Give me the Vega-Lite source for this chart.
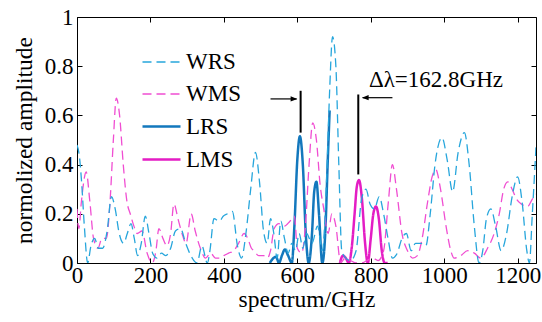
{
  "$schema": "https://vega.github.io/schema/vega-lite/v6.json",
  "width": 459,
  "height": 246,
  "autosize": {"type": "none"},
  "padding": {"left": 77, "top": 17, "right": 6, "bottom": 59},
  "config": {
    "view": {"stroke": "black", "strokeWidth": 1},
    "font": "Liberation Serif"
  },
  "datasets": {
    "curves": [
      {"s":"LRS","f":525,"a":0.0},{"s":"LRS","f":535,"a":0.02},{"s":"LRS","f":542,"a":0.025},{"s":"LRS","f":550,"a":0.0},{"s":"LRS","f":558,"a":0.03},{"s":"LRS","f":566,"a":0.055},{"s":"LRS","f":575,"a":0.03},{"s":"LRS","f":585,"a":0.0},{"s":"LRS","f":592,"a":0.15},{"s":"LRS","f":600,"a":0.42},{"s":"LRS","f":607,"a":0.515},{"s":"LRS","f":615,"a":0.4},{"s":"LRS","f":623,"a":0.12},{"s":"LRS","f":631,"a":0.0},{"s":"LRS","f":640,"a":0.12},{"s":"LRS","f":646,"a":0.29},{"s":"LRS","f":652,"a":0.33},{"s":"LRS","f":659,"a":0.2},{"s":"LRS","f":668,"a":0.0},{"s":"LRS","f":676,"a":0.12},{"s":"LRS","f":683,"a":0.42},{"s":"LRS","f":688,"a":0.62},
      {"s":"LMS","f":716,"a":0.0},{"s":"LMS","f":724,"a":0.03},{"s":"LMS","f":732,"a":0.02},{"s":"LMS","f":740,"a":0.0},{"s":"LMS","f":748,"a":0.06},{"s":"LMS","f":756,"a":0.2},{"s":"LMS","f":762,"a":0.31},{"s":"LMS","f":768,"a":0.337},{"s":"LMS","f":776,"a":0.26},{"s":"LMS","f":784,"a":0.09},{"s":"LMS","f":792,"a":0.0},{"s":"LMS","f":800,"a":0.1},{"s":"LMS","f":807,"a":0.2},{"s":"LMS","f":814,"a":0.23},{"s":"LMS","f":822,"a":0.18},{"s":"LMS","f":830,"a":0.05},{"s":"LMS","f":838,"a":0.0},{"s":"LMS","f":846,"a":0.0},
      {"s":"WMS","f":0,"a":0.22},{"s":"WMS","f":5,"a":0.14},{"s":"WMS","f":12,"a":0.25},{"s":"WMS","f":25,"a":0.37},{"s":"WMS","f":35,"a":0.25},{"s":"WMS","f":45,"a":0.1},{"s":"WMS","f":57,"a":0.06},{"s":"WMS","f":68,"a":0.1},{"s":"WMS","f":80,"a":0.1},{"s":"WMS","f":90,"a":0.25},{"s":"WMS","f":99,"a":0.5},{"s":"WMS","f":107,"a":0.67},{"s":"WMS","f":116,"a":0.6},{"s":"WMS","f":126,"a":0.4},{"s":"WMS","f":136,"a":0.25},{"s":"WMS","f":145,"a":0.2},{"s":"WMS","f":155,"a":0.15},{"s":"WMS","f":164,"a":0.12},{"s":"WMS","f":177,"a":0.13},{"s":"WMS","f":191,"a":0.04},{"s":"WMS","f":205,"a":0.0},{"s":"WMS","f":215,"a":0.05},{"s":"WMS","f":223,"a":0.14},{"s":"WMS","f":234,"a":0.1},{"s":"WMS","f":245,"a":0.07},{"s":"WMS","f":255,"a":0.12},{"s":"WMS","f":264,"a":0.24},{"s":"WMS","f":275,"a":0.18},{"s":"WMS","f":286,"a":0.12},{"s":"WMS","f":297,"a":0.08},{"s":"WMS","f":311,"a":0.2},{"s":"WMS","f":322,"a":0.13},{"s":"WMS","f":336,"a":0.06},{"s":"WMS","f":350,"a":0.02},{"s":"WMS","f":364,"a":0.04},{"s":"WMS","f":377,"a":0.02},{"s":"WMS","f":390,"a":0.02},{"s":"WMS","f":400,"a":0.03},{"s":"WMS","f":413,"a":0.04},{"s":"WMS","f":427,"a":0.05},{"s":"WMS","f":440,"a":0.08},{"s":"WMS","f":455,"a":0.12},{"s":"WMS","f":465,"a":0.1},{"s":"WMS","f":475,"a":0.06},{"s":"WMS","f":482,"a":0.05},{"s":"WMS","f":495,"a":0.03},{"s":"WMS","f":508,"a":0.03},{"s":"WMS","f":518,"a":0.02},{"s":"WMS","f":527,"a":0.05},{"s":"WMS","f":537,"a":0.14},{"s":"WMS","f":550,"a":0.16},{"s":"WMS","f":565,"a":0.15},{"s":"WMS","f":580,"a":0.17},{"s":"WMS","f":592,"a":0.19},{"s":"WMS","f":600,"a":0.06},{"s":"WMS","f":612,"a":0.04},{"s":"WMS","f":622,"a":0.15},{"s":"WMS","f":632,"a":0.4},{"s":"WMS","f":642,"a":0.57},{"s":"WMS","f":652,"a":0.5},{"s":"WMS","f":662,"a":0.32},{"s":"WMS","f":672,"a":0.22},{"s":"WMS","f":684,"a":0.12},{"s":"WMS","f":694,"a":0.2},{"s":"WMS","f":705,"a":0.15},{"s":"WMS","f":718,"a":0.0},{"s":"WMS","f":730,"a":0.02},{"s":"WMS","f":745,"a":0.01},{"s":"WMS","f":760,"a":0.0},{"s":"WMS","f":775,"a":0.0},{"s":"WMS","f":790,"a":0.01},{"s":"WMS","f":805,"a":0.02},{"s":"WMS","f":820,"a":0.01},{"s":"WMS","f":835,"a":0.05},{"s":"WMS","f":848,"a":0.25},{"s":"WMS","f":859,"a":0.4},{"s":"WMS","f":870,"a":0.3},{"s":"WMS","f":885,"a":0.12},{"s":"WMS","f":900,"a":0.05},{"s":"WMS","f":914,"a":0.02},{"s":"WMS","f":927,"a":0.03},{"s":"WMS","f":940,"a":0.1},{"s":"WMS","f":955,"a":0.25},{"s":"WMS","f":967,"a":0.35},{"s":"WMS","f":977,"a":0.38},{"s":"WMS","f":990,"a":0.3},{"s":"WMS","f":1005,"a":0.15},{"s":"WMS","f":1018,"a":0.05},{"s":"WMS","f":1027,"a":0.02},{"s":"WMS","f":1045,"a":0.03},{"s":"WMS","f":1064,"a":0.05},{"s":"WMS","f":1082,"a":0.04},{"s":"WMS","f":1100,"a":0.02},{"s":"WMS","f":1118,"a":0.06},{"s":"WMS","f":1136,"a":0.12},{"s":"WMS","f":1150,"a":0.2},{"s":"WMS","f":1162,"a":0.3},{"s":"WMS","f":1173,"a":0.33},{"s":"WMS","f":1185,"a":0.3},{"s":"WMS","f":1197,"a":0.26},{"s":"WMS","f":1210,"a":0.24},{"s":"WMS","f":1227,"a":0.23},{"s":"WMS","f":1240,"a":0.26},{"s":"WMS","f":1250,"a":0.28},
      {"s":"WRS","f":0,"a":0.48},{"s":"WRS","f":6,"a":0.44},{"s":"WRS","f":12,"a":0.34},{"s":"WRS","f":20,"a":0.15},{"s":"WRS","f":29,"a":0.0},{"s":"WRS","f":38,"a":0.07},{"s":"WRS","f":48,"a":0.1},{"s":"WRS","f":58,"a":0.06},{"s":"WRS","f":70,"a":0.06},{"s":"WRS","f":82,"a":0.13},{"s":"WRS","f":94,"a":0.27},{"s":"WRS","f":104,"a":0.22},{"s":"WRS","f":115,"a":0.12},{"s":"WRS","f":127,"a":0.08},{"s":"WRS","f":137,"a":0.12},{"s":"WRS","f":147,"a":0.16},{"s":"WRS","f":156,"a":0.1},{"s":"WRS","f":165,"a":0.03},{"s":"WRS","f":175,"a":0.08},{"s":"WRS","f":186,"a":0.19},{"s":"WRS","f":196,"a":0.12},{"s":"WRS","f":206,"a":0.04},{"s":"WRS","f":218,"a":0.02},{"s":"WRS","f":230,"a":0.04},{"s":"WRS","f":242,"a":0.03},{"s":"WRS","f":255,"a":0.06},{"s":"WRS","f":268,"a":0.13},{"s":"WRS","f":282,"a":0.14},{"s":"WRS","f":296,"a":0.08},{"s":"WRS","f":310,"a":0.03},{"s":"WRS","f":327,"a":0.0},{"s":"WRS","f":340,"a":0.07},{"s":"WRS","f":355,"a":0.0},{"s":"WRS","f":362,"a":0.05},{"s":"WRS","f":373,"a":0.18},{"s":"WRS","f":388,"a":0.17},{"s":"WRS","f":398,"a":0.19},{"s":"WRS","f":410,"a":0.2},{"s":"WRS","f":423,"a":0.21},{"s":"WRS","f":437,"a":0.07},{"s":"WRS","f":448,"a":0.02},{"s":"WRS","f":460,"a":0.12},{"s":"WRS","f":473,"a":0.3},{"s":"WRS","f":486,"a":0.45},{"s":"WRS","f":497,"a":0.33},{"s":"WRS","f":508,"a":0.13},{"s":"WRS","f":518,"a":0.08},{"s":"WRS","f":527,"a":0.18},{"s":"WRS","f":536,"a":0.12},{"s":"WRS","f":545,"a":0.02},{"s":"WRS","f":555,"a":0.17},{"s":"WRS","f":565,"a":0.1},{"s":"WRS","f":575,"a":0.04},{"s":"WRS","f":585,"a":0.08},{"s":"WRS","f":595,"a":0.05},{"s":"WRS","f":605,"a":0.12},{"s":"WRS","f":615,"a":0.06},{"s":"WRS","f":625,"a":0.12},{"s":"WRS","f":640,"a":0.08},{"s":"WRS","f":655,"a":0.15},{"s":"WRS","f":668,"a":0.05},{"s":"WRS","f":680,"a":0.35},{"s":"WRS","f":688,"a":0.7},{"s":"WRS","f":696,"a":0.92},{"s":"WRS","f":705,"a":0.8},{"s":"WRS","f":713,"a":0.4},{"s":"WRS","f":721,"a":0.05},{"s":"WRS","f":732,"a":0.02},{"s":"WRS","f":745,"a":0.01},{"s":"WRS","f":760,"a":0.05},{"s":"WRS","f":775,"a":0.26},{"s":"WRS","f":787,"a":0.3},{"s":"WRS","f":798,"a":0.24},{"s":"WRS","f":810,"a":0.22},{"s":"WRS","f":823,"a":0.27},{"s":"WRS","f":835,"a":0.2},{"s":"WRS","f":847,"a":0.1},{"s":"WRS","f":859,"a":0.02},{"s":"WRS","f":872,"a":0.04},{"s":"WRS","f":885,"a":0.1},{"s":"WRS","f":897,"a":0.12},{"s":"WRS","f":910,"a":0.05},{"s":"WRS","f":922,"a":0.08},{"s":"WRS","f":936,"a":0.08},{"s":"WRS","f":950,"a":0.07},{"s":"WRS","f":962,"a":0.2},{"s":"WRS","f":975,"a":0.4},{"s":"WRS","f":994,"a":0.51},{"s":"WRS","f":1008,"a":0.42},{"s":"WRS","f":1023,"a":0.29},{"s":"WRS","f":1038,"a":0.45},{"s":"WRS","f":1055,"a":0.53},{"s":"WRS","f":1068,"a":0.4},{"s":"WRS","f":1082,"a":0.15},{"s":"WRS","f":1095,"a":0.0},{"s":"WRS","f":1105,"a":0.05},{"s":"WRS","f":1115,"a":0.18},{"s":"WRS","f":1127,"a":0.22},{"s":"WRS","f":1140,"a":0.15},{"s":"WRS","f":1155,"a":0.05},{"s":"WRS","f":1170,"a":0.12},{"s":"WRS","f":1185,"a":0.27},{"s":"WRS","f":1200,"a":0.35},{"s":"WRS","f":1212,"a":0.25},{"s":"WRS","f":1225,"a":0.05},{"s":"WRS","f":1232,"a":0.0},{"s":"WRS","f":1240,"a":0.2},{"s":"WRS","f":1250,"a":0.47}
    ]
  },
  "layer": [
    {
      "data": {"name": "curves"},
      "mark": {"type": "line", "interpolate": "monotone", "clip": true},
      "encoding": {
        "x": {"field": "f", "type": "quantitative", "scale": {"domain": [0, 1250], "nice": false, "zero": false},
              "axis": {"title": "spectrum/GHz", "values": [0,200,400,600,800,1000,1200], "format": "d",
                       "labelFont": "Liberation Serif", "labelFontSize": 23, "labelColor": "black",
                       "titleFont": "Liberation Serif", "titleFontSize": 23.5, "titleFontWeight": "normal", "titleColor": "black",
                       "tickSize": -5, "tickColor": "black", "labelPadding": 6, "titlePadding": 0, "domain": false, "labelFlush": false, "grid": false}},
        "y": {"field": "a", "type": "quantitative", "scale": {"domain": [0, 1], "nice": false},
              "axis": {"title": "normolized amplitude", "values": [0,0.2,0.4,0.6,0.8,1], "format": "~g",
                       "labelFont": "Liberation Serif", "labelFontSize": 23, "labelColor": "black",
                       "titleFont": "Liberation Serif", "titleFontSize": 23.5, "titleFontWeight": "normal", "titleColor": "black",
                       "tickSize": -5, "tickColor": "black", "labelPadding": 9, "titlePadding": 8, "domain": false, "labelFlush": false, "grid": false}},
        "color": {"field": "s", "type": "nominal", "title": null,
                  "scale": {"domain": ["WRS","WMS","LRS","LMS"], "range": ["#27a6dc","#f04ed2","#1378bd","#e41dc4"]},
                  "legend": {"orient": "none", "legendX": 64, "legendY": 25, "symbolType": "stroke", "symbolSize": 1444, "rowPadding": -9, "labelOffset": 4, "symbolStrokeWidth": 1.6,
                             "labelFont": "Liberation Serif", "labelFontSize": 23, "labelColor": "black"}},
        "strokeDash": {"field": "s", "type": "nominal", "title": null,
                  "scale": {"domain": ["WRS","WMS","LRS","LMS"], "range": [[9,5],[9,5],[1,0],[1,0]]}},
        "strokeWidth": {"field": "s", "type": "nominal", "title": null,
                  "scale": {"type": "ordinal", "domain": ["WRS","WMS","LRS","LMS"], "range": [1.3,1.3,2.5,2.5]}}
      }
    },
    {
      "data": {"values": [{"f": 609, "a1": 0.53, "a2": 0.70}, {"f": 766, "a1": 0.36, "a2": 0.685}]},
      "mark": {"type": "rule", "color": "black", "strokeWidth": 2},
      "encoding": {
        "x": {"field": "f", "type": "quantitative", "axis": null},
        "y": {"field": "a1", "type": "quantitative", "axis": null},
        "y2": {"field": "a2"}
      }
    },
    {
      "data": {"values": [{"f1": 527, "f2": 598, "a": 0.667}, {"f1": 859, "f2": 778, "a": 0.672}]},
      "mark": {"type": "rule", "color": "black", "strokeWidth": 1.2},
      "encoding": {
        "x": {"field": "f1", "type": "quantitative", "axis": null},
        "x2": {"field": "f2"},
        "y": {"field": "a", "type": "quantitative", "axis": null}
      }
    },
    {
      "data": {"values": [{"f": 600, "a": 0.667, "d": "r"}, {"f": 776, "a": 0.672, "d": "l"}]},
      "mark": {"type": "point", "filled": true, "color": "black", "size": 180, "opacity": 1},
      "encoding": {
        "x": {"field": "f", "type": "quantitative", "axis": null},
        "y": {"field": "a", "type": "quantitative", "axis": null},
        "shape": {"field": "d", "type": "nominal", "legend": null,
                  "scale": {"domain": ["r","l"], "range": ["M-1,-0.4L0,0L-1,0.4Z", "M1,-0.4L0,0L1,0.4Z"]}}
      }
    },
    {
      "data": {"values": [{"f": 795, "a": 0.745, "t": "Δλ=162.8GHz"}]},
      "mark": {"type": "text", "align": "left", "baseline": "middle", "fontSize": 23, "font": "Liberation Serif", "color": "black"},
      "encoding": {
        "x": {"field": "f", "type": "quantitative",
              "axis": {"orient": "top", "labels": false, "title": null, "domain": false, "grid": false, "tickSize": -5, "tickColor": "black", "values": [0,200,400,600,800,1000,1200]}},
        "y": {"field": "a", "type": "quantitative",
              "axis": {"orient": "right", "labels": false, "title": null, "domain": false, "grid": false, "tickSize": -5, "tickColor": "black", "values": [0,0.2,0.4,0.6,0.8,1]}},
        "text": {"field": "t"}
      }
    }
  ],
  "resolve": {"axis": {"x": "independent", "y": "independent"}}
}
